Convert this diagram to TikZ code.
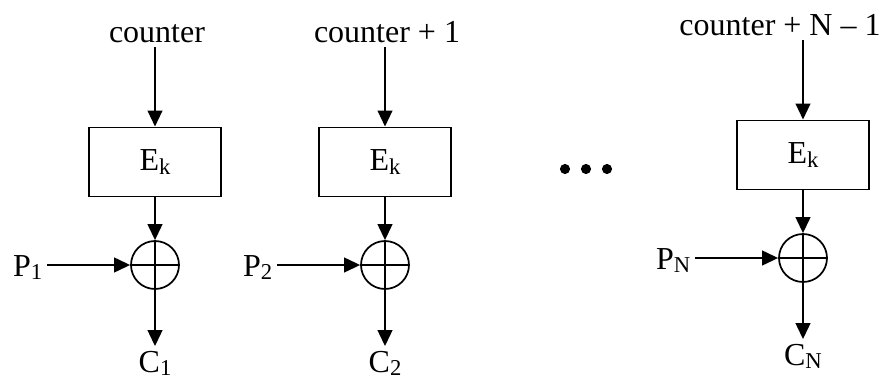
\documentclass[tikz,border=0pt]{standalone}
\usepackage{fontspec}
\setmainfont{Liberation Serif}
\usetikzlibrary{arrows.meta,positioning,calc}

\newcommand{\lowsub}[1]{\raisebox{-0.1em}{\fontsize{17}{20}\selectfont #1}}

\begin{document}
\begin{tikzpicture}[
    x=0.75pt, y=0.75pt,
    every node/.style={font=\fontsize{24}{28}\selectfont},
    block/.style={rectangle, draw, line width=1.2pt, minimum width=99pt, minimum height=52pt},
    xorop/.style={circle, draw, line width=1.3pt, minimum size=36pt, inner sep=0pt,
        path picture={\draw[line width=1.3pt]
            (path picture bounding box.north) -- (path picture bounding box.south)
            (path picture bounding box.west) -- (path picture bounding box.east);}},
    arrow/.style={-{Triangle[length=12pt,width=11pt]}, line width=1.6pt}
]
\useasboundingbox (0,0) rectangle (883,380);

% Counter-mode stages
\foreach \x/\dy/\lx/\lab/\s [count=\i] in {155/0/2/counter/1, 385/0/2/counter + 1/2, 803/7/-23/counter + N \textendash{} 1/N} {
    \node[anchor=base] (count\i) at (\x+\lx, 338+\dy) {\lab};
    \node[block] (enc\i) at (\x, 218+\dy) {E\lowsub{k}};
    \node[xorop] (xor\i) at (\x, 115+\dy) {};
    \node[anchor=base east] (plain\i) at (\x-108, 104+\dy) {P\lowsub{\s}};
    \node[anchor=base] (cipher\i) at (\x, 8+\dy) {C\lowsub{\s}};
    \draw[arrow] (enc\i |- count\i.south) -- (enc\i.north);
    \draw[arrow] (enc\i.south) -- (xor\i.north);
    \draw[arrow] (plain\i.east |- xor\i) -- (xor\i.west);
    \draw[arrow] (xor\i.south) -- (cipher\i.north);
}

% Ellipsis
\foreach \dx in {565,586,607} {
    \fill (\dx, 211) circle (3.8pt);
}

\end{tikzpicture}
\end{document}
